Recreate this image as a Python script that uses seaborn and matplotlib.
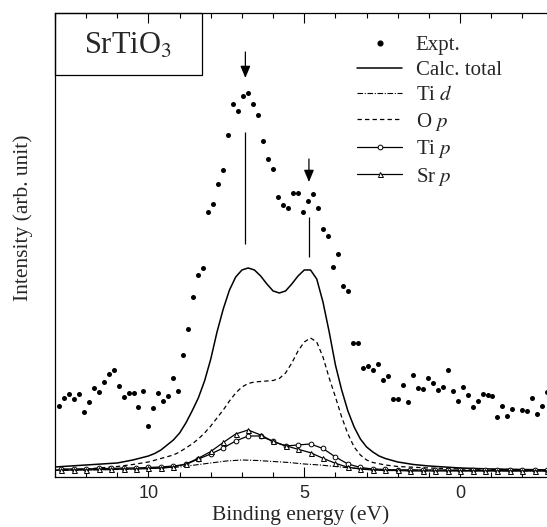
import numpy as np
import pandas as pd
import matplotlib
matplotlib.use('Agg')
import matplotlib.pyplot as plt
import seaborn as sns
from matplotlib.lines import Line2D
from matplotlib.patches import Rectangle
from matplotlib.ticker import MultipleLocator

# 实验点 (binding energy, intensity)
expt_e = [12.88, 12.72, 12.56, 12.40, 12.24, 12.08, 11.92, 11.76, 11.60, 11.44,
          11.28, 11.12, 10.96, 10.80, 10.64, 10.48, 10.32, 10.16, 10.00, 9.84,
          9.68, 9.52, 9.36, 9.20, 9.04, 8.88, 8.72, 8.56, 8.40, 8.24,
          8.08, 7.92, 7.76, 7.60, 7.44, 7.28, 7.12, 6.96, 6.80, 6.64,
          6.48, 6.32, 6.16, 6.00, 5.84, 5.68, 5.52, 5.36, 5.20, 5.04,
          4.88, 4.72, 4.56, 4.40, 4.24, 4.08, 3.92, 3.76, 3.60, 3.44,
          3.28, 3.12, 2.96, 2.80, 2.64, 2.48, 2.32, 2.16, 2.00, 1.84,
          1.68, 1.52, 1.36, 1.20, 1.04, 0.88, 0.72, 0.56, 0.40, 0.24,
          0.08, -0.08, -0.24, -0.40, -0.56, -0.72, -0.88, -1.04, -1.20, -1.36,
          -1.52, -1.68, -2.00, -2.16, -2.32, -2.48, -2.64, -2.80]
expt_i = [71.3, 79.3, 83.0, 77.7, 83.3, 65.3, 75.0, 89.3, 84.7, 95.3,
          103.0, 107.0, 91.0, 80.3, 83.7, 84.0, 70.3, 86.0, 51.0, 69.0,
          83.7, 76.3, 80.7, 99.3, 86.3, 122.3, 147.7, 180.3, 201.5, 208.7,
          265.0, 273.3, 292.5, 306.5, 342.0, 372.8, 365.8, 381.0, 384.3, 372.7,
          362.2, 336.0, 318.3, 308.0, 280.0, 272.0, 269.0, 284.3, 284.3, 265.3,
          276.0, 283.0, 269.0, 248.3, 241.0, 210.0, 223.0, 191.0, 185.5, 134.3,
          134.0, 109.0, 111.0, 107.0, 113.0, 97.0, 101.3, 78.0, 78.0, 91.7,
          74.7, 101.8, 89.3, 88.3, 98.5, 93.7, 87.0, 90.3, 106.8, 86.0,
          76.0, 90.0, 81.5, 69.8, 76.3, 82.7, 81.7, 81.0, 60.0, 71.0,
          61.0, 68.3, 66.5, 66.0, 79.0, 62.7, 71.0, 85.0]

# 计算总谱
total_e = [13.0, 12.0, 11.0, 10.5, 10.0, 9.8, 9.6, 9.4, 9.2, 9.0, 8.8, 8.6, 8.4, 8.2,
           8.0, 7.8, 7.6, 7.4, 7.2, 7.0, 6.8, 6.6, 6.4, 6.2, 6.0, 5.8, 5.6, 5.4,
           5.2, 5.0, 4.8, 4.6, 4.4, 4.2, 4.0, 3.8, 3.6, 3.4, 3.2, 3.0, 2.8, 2.6,
           2.4, 2.0, 1.5, 1.0, 0.0, -1.0, -3.0]
total_i = [10, 12, 14, 17, 21, 23.5, 27, 32, 37, 44, 54, 66, 79, 96,
           118, 145, 168, 187, 200, 207, 209, 207, 201, 193, 186, 184, 186, 193,
           201, 207, 207, 198, 175, 145, 112, 87, 66, 50, 38, 30, 25, 21,
           18.5, 15, 12.5, 11, 9, 8, 7]

# O p
op_e = [13.0, 12.0, 11.0, 10.5, 10.0, 9.6, 9.2, 9.0, 8.8, 8.6, 8.4, 8.2, 8.0, 7.8,
        7.6, 7.4, 7.2, 7.0, 6.8, 6.6, 6.4, 6.2, 6.0, 5.8, 5.6, 5.4, 5.2, 5.0,
        4.8, 4.6, 4.4, 4.2, 4.0, 3.8, 3.6, 3.4, 3.2, 3.0, 2.8, 2.4, 2.0, 1.0,
        0.0, -1.5, -3.0]
op_i = [7, 8, 10.5, 12.5, 15, 18.5, 22, 25, 29, 33, 38, 44, 51, 59,
        67, 76, 84, 90, 93.5, 95, 95.5, 96, 96.5, 98.5, 104, 114, 126, 135,
        139, 135, 120, 99, 80, 60, 43, 30, 22, 17, 14.5, 12, 10.5, 9,
        8, 7.5, 7]

# Ti d
tid_e = [13.0, 12.0, 11.0, 10.0, 9.0, 8.5, 8.0, 7.5, 7.0, 6.5, 6.0, 5.5, 5.0, 4.5,
         4.0, 3.5, 3.0, 2.0, 0.0, -3.0]
tid_i = [6.5, 7, 7.5, 8.5, 10, 12, 14, 16, 17, 16.5, 15.5, 14.5, 13, 12,
         10.5, 9, 8, 7, 6.5, 6]

# Ti p / Sr p (0.4 eV grid)
p_e = [12.8, 12.4, 12.0, 11.6, 11.2, 10.8, 10.4, 10.0, 9.6, 9.2, 8.8, 8.4, 8.0, 7.6,
       7.2, 6.8, 6.4, 6.0, 5.6, 5.2, 4.8, 4.4, 4.0, 3.6, 3.2, 2.8, 2.4, 2.0,
       1.6, 1.2, 0.8, 0.4, 0.0, -0.4, -0.8, -1.2, -1.6, -2.0, -2.4, -2.8]
tip_i = [8, 8, 8, 8.5, 8.5, 9, 9, 9.5, 10, 11, 12.5, 18, 23, 29,
         36, 41, 41, 35.5, 31, 32, 33, 28.5, 20, 13, 9.5, 8, 7.5, 7,
         7, 7, 7, 7, 6.5, 6.5, 6.5, 6.5, 6.5, 6.5, 6.5, 6.5]
srp_i = [7, 7, 7, 7.5, 7.5, 8, 8, 8.5, 9, 10, 13, 18.7, 25.5, 34.5,
         43, 47, 42, 35.5, 31.3, 27.7, 24.3, 18.7, 13.7, 9.7, 8, 7, 6.5, 6.5,
         6, 6, 6, 6, 6, 6, 6, 6, 6, 6, 6, 6]

# 峰位标记
peak_e = [6.89, 4.85]
line_lo = [233, 220]
line_hi = [345, 260]
arrow_tail = [425, 318]
arrow_tip = [399, 295]

sns.set_theme(style='ticks')
plt.rcParams['font.family'] = ['Liberation Serif', 'DejaVu Serif']
plt.rcParams['mathtext.fontset'] = 'stix'

fig = plt.figure(figsize=(5.47, 5.27), dpi=100)
ax = fig.add_axes([0.1005, 0.0949, 0.9115, 0.8805])

sns.scatterplot(x=expt_e, y=expt_i, ax=ax, color='black', s=13, linewidth=0, zorder=5)
sns.lineplot(x=total_e, y=total_i, ax=ax, color='black', lw=1.1)
sns.lineplot(x=op_e, y=op_i, ax=ax, color='black', lw=0.9, linestyle=(0, (3.5, 2.5)))
sns.lineplot(x=tid_e, y=tid_i, ax=ax, color='black', lw=0.8, linestyle=(0, (5, 1.5, 1, 1.5)))
sns.lineplot(x=p_e, y=tip_i, ax=ax, color='black', lw=0.9, marker='o', markersize=3.4,
             markerfacecolor='white', markeredgecolor='black', markeredgewidth=0.7)
sns.lineplot(x=p_e, y=srp_i, ax=ax, color='black', lw=0.9, marker='^', markersize=3.6,
             markerfacecolor='white', markeredgecolor='black', markeredgewidth=0.7)

ax.vlines(peak_e, line_lo, line_hi, color='black', lw=0.9)
for e, t0, t1 in zip(peak_e, arrow_tail, arrow_tip):
    ax.annotate('', xy=(e, t1), xytext=(e, t0),
                arrowprops=dict(arrowstyle='-|>,head_length=0.6,head_width=0.25',
                                color='black', lw=0.9, shrinkA=0, shrinkB=0))

ax.set_xlim(13, -3)
ax.set_ylim(0, 464)
ax.xaxis.set_major_locator(MultipleLocator(5))
ax.xaxis.set_minor_locator(MultipleLocator(1))
ax.set_yticks([])
ax.tick_params(axis='x', which='both', direction='in', top=True, bottom=True, color='black')
ax.tick_params(axis='x', which='major', length=7, width=0.8, pad=6, labelsize=13)
ax.tick_params(axis='x', which='minor', length=3.6, width=0.8)
for lab in ax.get_xticklabels():
    lab.set_family('Liberation Sans')
for sp in ax.spines.values():
    sp.set_linewidth(0.9)
    sp.set_color('black')

ax.set_xlabel('Binding energy (eV)', fontsize=15.5)
ax.xaxis.set_label_coords(0.493, -0.060)
ax.set_ylabel('Intensity (arb. unit)', fontsize=15.5)
ax.yaxis.set_label_coords(-0.045, 0.558)

ax.add_patch(Rectangle((0, 0.866), 0.295, 0.134, transform=ax.transAxes,
                       fill=False, lw=0.9, edgecolor='black', clip_on=False))
ax.text(0.147, 0.928, 'SrTiO$_3$', transform=ax.transAxes, ha='center', va='center',
        fontsize=22)

handles = [
    Line2D([], [], ls='none', marker='o', ms=3.4, color='black'),
    Line2D([], [], color='black', lw=1.1),
    Line2D([], [], color='black', lw=0.8, ls=(0, (5, 1.5, 1, 1.5))),
    Line2D([], [], color='black', lw=0.9, ls=(0, (3.5, 2.5))),
    Line2D([], [], color='black', lw=0.9, marker='o', ms=3.4, mfc='white', mew=0.7),
    Line2D([], [], color='black', lw=0.9, marker='^', ms=3.6, mfc='white', mew=0.7),
]
labels = ['Expt.', 'Calc. total', 'Ti $d$', 'O $p$', 'Ti $p$', 'Sr $p$']
ax.legend(handles, labels, loc='upper left', bbox_to_anchor=(0.606, 0.951),
          frameon=False, fontsize=15, handlelength=2.15, handletextpad=0.67,
          labelspacing=0.26, borderpad=0, borderaxespad=0, numpoints=1)

fig.savefig('out.png', dpi=100)
